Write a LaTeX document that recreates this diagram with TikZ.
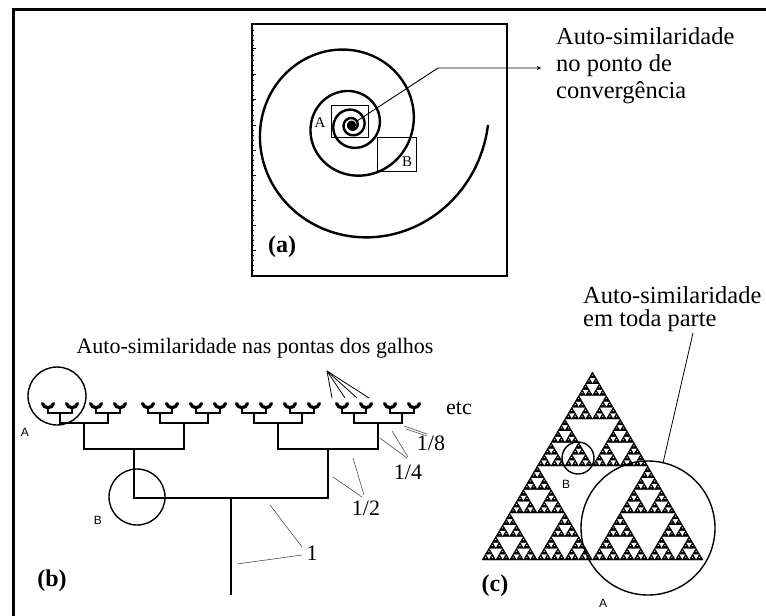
\documentclass[tikz,border=0pt]{standalone}
\usepackage{fontspec}
\setmainfont{Liberation Serif}
\setsansfont{Liberation Sans}
\usetikzlibrary{calc}

\begin{document}
\begin{tikzpicture}[x=1pt, y=-1pt, >=stealth,
  label/.style={font=\fontsize{22}{27}\selectfont, inner sep=0pt},
  biglabel/.style={font=\fontsize{24.5}{27}\selectfont, inner sep=0pt},
  tag/.style={font=\fontsize{24}{26}\selectfont\bfseries, inner sep=0pt},
  letter/.style={font=\sffamily\fontsize{12}{12}\selectfont, inner sep=0pt},
  seriflet/.style={font=\fontsize{15}{15}\selectfont, inner sep=0pt},
  leader/.style={line width=0.6pt, black!70},
  branch/.style={line width=2.4pt},
  cup/.style={line width=3.2pt, line cap=round},
  ring/.style={draw, circle, line width=1.4pt, inner sep=0pt}
]
  \useasboundingbox (0,0) rectangle (766,616);

  % Outer frame (only top and left edges)
  \draw[line width=3.3pt] (13.3,616) -- (13.3,9.5) -- (766,9.5);

  % ---------------- Panel (a): spiral ----------------
  \draw[line width=1.3pt] (252,24) rectangle (507,276);
  \foreach \ty in {30,35,...,270}
    \draw[line width=0.5pt] (252,\ty) -- (254,\ty);
  \foreach \ty in {48,74,99,125,150,175,200,225,250}
    \draw[line width=0.7pt] (252,\ty) -- (256,\ty);

  \draw[line width=2.4pt] plot[domain=0:1800, samples=600, smooth, variable=\t]
    ({352+136*exp(-0.002218*\t)*cos(\t)}, {125+136*exp(-0.002218*\t)*sin(\t)});
  \fill (352,125) circle (4);

  \node[draw, line width=0.9pt, minimum width=37, minimum height=32, inner sep=0pt] (boxA) at (349.5,121) {};
  \node[draw, line width=0.9pt, minimum width=39, minimum height=34, inner sep=0pt] (boxB) at (396.5,154) {};
  \node[seriflet] (labA) at (320,123) {A};
  \node[seriflet] (labB) at (407,162) {B};

  \node[biglabel, align=left, anchor=north west] (txta) at (556,27) {Auto-similaridade\\no ponto de\\convergência};
  \coordinate (conv) at (357,121);
  \coordinate (bend) at (438,68);
  \coordinate (arrtip) at (541,68);
  \draw[->, line width=0.9pt] (conv) -- (bend) -- (arrtip);

  \node[tag] (taga) at (282,247) {(a)};

  % ---------------- Panel (b): branching tree ----------------
  \coordinate (root) at (231,595);
  \draw[branch] (root) -- (231,498);
  \draw[branch] (134,449) -- (134,498) -- (328,498) -- (328,449);
  \foreach \cx in {134,328} {
    \draw[branch] (\cx-50,423) -- (\cx-50,449) -- (\cx+50,449) -- (\cx+50,423);
    \foreach \ox in {-50,50} {
      \draw[branch] (\cx+\ox-24,413) -- (\cx+\ox-24,423) -- (\cx+\ox+24,423) -- (\cx+\ox+24,413);
      \foreach \px in {-24,24} {
        \draw[branch] (\cx+\ox+\px-12,408) -- (\cx+\ox+\px-12,413) -- (\cx+\ox+\px+12,413) -- (\cx+\ox+\px+12,408);
        \foreach \qx in {-12,12}
          \draw[cup] (\cx+\ox+\px+\qx-5.5,403.5) .. controls (\cx+\ox+\px+\qx-4,409) and (\cx+\ox+\px+\qx+4,409) .. (\cx+\ox+\px+\qx+5.5,403.5);
      }
    }
  }

  \node[ring, minimum size=58] (circbA) at (57,396) {};
  \node[ring, minimum size=56] (circbB) at (137,497) {};
  \node[letter] (labbA) at (25,432) {A};
  \node[letter] (labbB) at (98,520) {B};

  \node[label] (txtb) at (255,348) {Auto-similaridade nas pontas dos galhos};
  \coordinate (fan) at (327,371);
  \foreach \fx in {332,345,357,369}
    \draw[line width=0.8pt] (fan) -- (\fx,398);

  \node[label] (etc) at (459,408) {etc};

  % Ratio labels with their leader lines
  \node[label] (f8) at (431,443) {1/8};
  \node[label] (f4) at (408,472) {1/4};
  \node[label] (f2) at (366,508) {1/2};
  \node[label] (f1) at (312,553) {1};
  \coordinate (f8a) at (404,426);
  \coordinate (f8b) at (406,429);
  \coordinate (f4a) at (380,438);
  \coordinate (f4b) at (392,431);
  \coordinate (f2a) at (333,477);
  \coordinate (f2b) at (353,458);
  \coordinate (f1a) at (270,505);
  \coordinate (f1b) at (237,564);
  \draw[leader] (f8a) -- (427,434) (f8b) -- (427,436);
  \draw[leader] (f4a) -- (407,458) (f4b) -- (408,457);
  \draw[leader] (f2a) -- (362,497) (f2b) -- (364,495);
  \draw[leader] (f1a) -- (302,547) (f1b) -- (302,555);

  \node[tag] (tagb) at (52,581) {(b)};

  % ---------------- Panel (c): Sierpinski triangle ----------------
  \foreach \ua/\va in {0/0,1/0,0.5/1}
  \foreach \ub/\vb in {0/0,1/0,0.5/1}
  \foreach \uc/\vc in {0/0,1/0,0.5/1}
  \foreach \ud/\vd in {0/0,1/0,0.5/1}
  \foreach \ue/\ve in {0/0,1/0,0.5/1} {
    \pgfmathsetmacro\sx{482+221*(\ua/2+\ub/4+\uc/8+\ud/16+\ue/32)}
    \pgfmathsetmacro\sy{560-188*(\va/2+\vb/4+\vc/8+\vd/16+\ve/32)}
    \filldraw[line width=0.4pt, line join=round, even odd rule] (\sx,\sy) -- ++(6.906,0) -- ++(-3.453,-5.875) -- cycle
      (\sx+2.07,\sy-3.5) -- ++(2.76,0) -- ++(-1.38,2.35) -- cycle;
  }

  \node[ring, minimum size=134] (circcA) at (648,528) {};
  \node[ring, minimum size=32] (circcB) at (578,458) {};
  \node[letter] (labcA) at (603,603) {A};
  \node[letter] (labcB) at (566,484) {B};

  \node[biglabel, align=left, anchor=north west, font=\fontsize{24.5}{23}\selectfont] (txtc) at (583,286) {Auto-similaridade\\em toda parte};
  \coordinate (clead) at (693,333);
  \draw[line width=0.8pt] (clead) -- (circcA);

  \node[tag] (tagc) at (495,586) {(c)};

\end{tikzpicture}
\end{document}
